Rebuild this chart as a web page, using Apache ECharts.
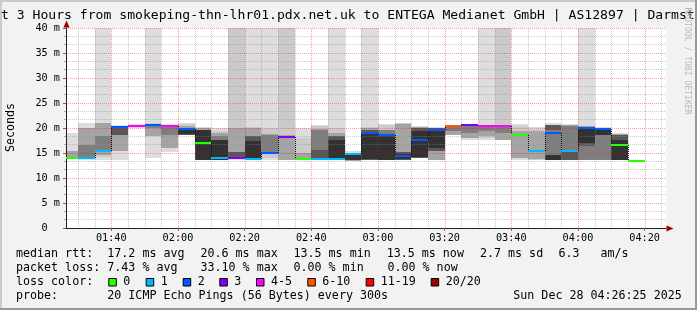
<!DOCTYPE html>
<html><head><meta charset="utf-8">
<script src="https://cdn.jsdelivr.net/npm/echarts@6/dist/echarts.min.js"></script>
<style>html,body{margin:0;padding:0;background:#f2f2f2}#c{width:697px;height:310px}</style>
</head><body><div id="c"></div>
<script>
// ---------------- DATA ----------------
const rangeStart = '01:26:25';
const rangeEnd = '04:26:25';
const STEP = 5; // minutes per RRD step (300 s)
const blockStart = ['01:25','01:30','01:35','01:40','01:45','01:50','01:55','02:00','02:05','02:10','02:15','02:20','02:25','02:30','02:35','02:40','02:45','02:50','02:55','03:00','03:05','03:10','03:15','03:20','03:25','03:30','03:35','03:40','03:45','03:50','03:55','04:00','04:05','04:10','04:15'];
const median = [14.0,14.0,15.4,20.2,20.4,20.6,20.5,19.9,17.1,14.0,14.0,13.8,15.0,18.2,13.8,13.8,13.8,14.8,19.0,18.6,14.4,17.7,19.7,20.4,20.6,20.5,20.4,18.7,15.5,19.0,15.5,20.0,19.8,16.7,13.5];
const lossIdx = [0,1,1,2,4,2,4,2,0,1,3,1,2,3,0,1,1,1,2,2,2,2,2,5,3,4,4,0,1,2,1,2,2,0,0];
const HI = 999; // ping above the graph maximum
// smoke layers, outermost (lightest) to innermost (darkest): [low, high] in ms
const smoke1 = [[14.0,19.0],[13.7,21.0],[13.7,HI],[13.7,20.6],[20.0,20.8],[14.0,HI],[15.2,20.8],[18.7,21.0],[13.7,20.3],[13.7,20.1],[13.7,HI],[13.7,HI],[13.7,HI],[13.7,HI],[13.7,20.0],[13.7,20.7],[13.7,HI],[13.4,15.4],[13.7,HI],[13.7,20.8],[13.7,21.1],[14.0,20.4],[13.7,20.2],[18.7,20.6],[17.7,20.8],[17.7,HI],[17.7,HI],[13.7,20.8],[13.7,20.2],[13.7,21.0],[13.7,20.9],[13.7,HI],[13.7,20.3],[13.7,19.0],null];
const smoke2 = [null,[13.8,20.0],[14.2,21.0],[15.4,20.5],[20.2,20.6],[18.4,21.0],null,[18.7,20.8],null,[13.7,19.5],[13.8,HI],[13.7,20.3],[14.0,20.0],[13.7,HI],[13.7,18.0],[13.7,20.5],[13.7,20.0],null,[13.7,20.2],[13.7,20.6],[13.7,21.0],null,null,null,null,[18.0,20.6],[17.7,HI],[14.0,20.5],[13.7,19.8],null,null,null,null,null,null];
const smoke3 = [[14.0,15.4],[13.9,20.0],[14.7,21.0],[15.4,20.4],null,[18.4,20.9],[16.0,20.5],[18.7,20.4],[13.7,20.0],[13.7,19.0],[13.9,20.0],[13.7,20.0],[14.9,18.9],[13.7,18.7],[13.7,15.0],[13.7,19.9],[13.7,19.0],[13.5,15.0],[13.7,20.0],[13.7,19.7],[13.7,20.8],[14.0,20.2],[13.7,20.1],[18.7,20.4],[18.0,20.6],[18.4,20.4],[17.7,20.4],[14.0,19.4],[13.8,19.4],null,[13.7,20.7],[13.7,20.4],[13.7,20.1],[13.7,18.8],null];
const smoke4 = [null,[14.3,16.7],[15.3,18.4],[18.7,20.3],null,[20.0,20.8],[18.7,20.4],null,null,[13.7,18.4],null,null,[15.0,18.7],null,null,[13.7,19.7],null,null,null,[13.7,19.6],null,null,null,[19.5,20.3],[19.0,20.4],[19.5,20.3],[19.0,20.2],null,null,[13.7,20.7],[13.7,20.5],[13.7,20.2],[13.7,20.0],null,null];
const smoke5 = [null,null,null,[18.7,20.2],null,null,null,[18.7,20.0],null,null,[13.9,15.2],[13.7,18.4],null,null,null,[13.7,15.6],[13.7,18.4],null,[13.7,19.6],null,[13.7,15.2],[14.0,20.0],[15.4,20.0],null,null,null,null,null,null,[19.6,20.7],[13.7,15.4],[16.4,20.1],null,[13.7,18.7],null];
const smoke6 = [null,null,null,null,null,null,null,[18.9,19.8],[13.7,19.7],[13.7,17.6],null,[13.7,17.5],null,null,null,null,[13.7,17.7],[13.6,14.8],[13.8,18.9],[13.7,18.6],[13.8,14.8],[14.2,19.5],[16.0,19.8],null,null,null,null,null,null,[13.7,14.7],null,[17.0,20.0],[18.7,20.0],[13.7,17.7],null];
const lossLabels = ['0','1','2','3','4-5','6-10','11-19','20/20'];
const xLabels = ['01:40','02:00','02:20','02:40','03:00','03:20','03:40','04:00','04:20'];
const yMax = 40;
const titleText = 't 3 Hours from smokeping-thn-lhr01.pdx.net.uk to ENTEGA Medianet GmbH | AS12897 | Darmst';
const rttLabel = 'median rtt:';
const rttStats = ['17.2 ms avg','20.6 ms max','13.5 ms min','13.5 ms now','2.7 ms sd','6.3','am/s'];
const lossLabel = 'packet loss:';
const lossStats = ['7.43 % avg','33.10 % max','0.00 % min','0.00 % now'];
const colorLabel = 'loss color:';
const probeLabel = 'probe:';
const probeText = '20 ICMP Echo Pings (56 Bytes) every 300s';
const dateText = 'Sun Dec 28 04:26:25 2025';
const watermark = 'RRDTOOL / TOBI OETIKER';
const yName = 'Seconds';

// ---------------- STYLE ----------------
const lossColors = ['#26ff00','#00b8ff','#0059ff','#7e00ff','#ff00ff','#ff5500','#ff0000','#a10000'];
const layerColors = ['#dddddd','#cacaca','#a4a4a4','#7e7e7e','#585858','#323232'];
const layers = [smoke1, smoke2, smoke3, smoke4, smoke5, smoke6];
const MONO = '"DejaVu Sans Mono", monospace';

function toMin(s){ const p = s.split(':').map(Number); return p[0]*60 + p[1] + (p[2]||0)/60; }
const xMin = toMin(rangeStart), xMax = toMin(rangeEnd);
const xLabelVals = xLabels.map(toMin);
const gridVals = [];
for (let t = Math.ceil(xMin/STEP)*STEP; t < xMax; t += STEP) gridVals.push(t);
const blocks = blockStart.map((s,i)=>[toMin(s), toMin(s)+STEP, i]);

const chart = echarts.init(document.getElementById('c'), null, {renderer:'canvas'});

const legendEls = [];
function txt(x, y, text, extra){
  legendEls.push(Object.assign({type:'text', x:x, y:y, silent:true,
    style:{text:text, fill:'#000', fontFamily:MONO, fontSize:11.66, align:'left', verticalAlign:'middle'}}, extra||{}));
}
const row = [253.8, 267.8, 281.8, 295.6];
txt(16,row[0],rttLabel);
[107.3,200.5,293.5,386.7,480,558.5,600.5].forEach((x,i)=>txt(x,row[0],rttStats[i]));
txt(16,row[1],lossLabel);
[107.3,200.5,293.5,387.5].forEach((x,i)=>txt(x,row[1],lossStats[i]));
txt(16,row[2],colorLabel);
const boxX = [108.3,145.7,182.7,219.3,256,307.3,365.7,430.7];
lossLabels.forEach((l,i)=>{
  legendEls.push({type:'rect', silent:true, shape:{x:boxX[i]+0.5, y:278.5, width:7.5, height:7.5},
    style:{fill:lossColors[i], stroke:'#000', lineWidth:1}});
  txt(boxX[i]+15, row[2], l);
});
txt(16,row[3],probeLabel);
txt(107.3,row[3],probeText);
txt(513.3,row[3],dateText);

const graphicEls = [
  {type:'rect', silent:true, shape:{x:0,y:0,width:697,height:2}, style:{fill:'#cbcbcb'}},
  {type:'rect', silent:true, shape:{x:0,y:0,width:2,height:310}, style:{fill:'#cbcbcb'}},
  {type:'rect', silent:true, shape:{x:0,y:308,width:697,height:2}, style:{fill:'#999999'}},
  {type:'rect', silent:true, shape:{x:695,y:0,width:2,height:310}, style:{fill:'#999999'}},
  {type:'text', silent:true, x:1, y:15.5, style:{text:titleText, fill:'#000', fontFamily:MONO, fontSize:13.1, align:'left', verticalAlign:'middle'}},
  {type:'text', silent:true, x:11, y:127.5, rotation:Math.PI/2, style:{text:yName, fill:'#000', fontFamily:MONO, fontSize:11.66, align:'center', verticalAlign:'middle'}},
  {type:'text', silent:true, x:687.5, y:61, rotation:-Math.PI/2, style:{text:watermark, fill:'#b8b8b8', fontFamily:MONO, fontSize:8.1, align:'center', verticalAlign:'middle'}},
  {type:'polygon', silent:true, z:10, shape:{points:[[66.5,20.5],[63.5,27.5],[69.5,27.5]]}, style:{fill:'#990000'}},
  {type:'polygon', silent:true, z:10, shape:{points:[[673.5,228.5],[666.5,225.5],[666.5,231.5]]}, style:{fill:'#990000'}}
].concat(legendEls);

chart.setOption({
  animation:false,
  backgroundColor:'#f2f2f2',
  grid:{left:66, top:28, width:600, height:200, show:true, backgroundColor:'#ffffff', borderWidth:0},
  xAxis:{type:'value', min:xMin, max:xMax, z:4,
    axisLine:{show:true, onZero:false, lineStyle:{color:'#222', width:1}},
    axisTick:{show:true, customValues:xLabelVals, length:3, lineStyle:{color:'#cc4444'}},
    axisLabel:{customValues:xLabelVals, margin:5, color:'#000', fontFamily:MONO, fontSize:10.2,
      formatter:v=>{ const i = xLabelVals.findIndex(u=>Math.abs(u-v)<1e-6); return i>=0 ? xLabels[i] : ''; }},
    splitLine:{show:false}},
  yAxis:{type:'value', min:0, max:yMax, interval:5, z:2,
    axisLine:{show:true, lineStyle:{color:'#222', width:1}},
    axisTick:{show:true, length:3, lineStyle:{color:'#cc4444'}},
    minorTick:{show:true, splitNumber:3, length:2, lineStyle:{color:'#aaaaaa'}},
    axisLabel:{margin:6, color:'#000', fontFamily:MONO, fontSize:10.2, formatter:v=> v===0 ? '0  ' : v+' m'},
    splitLine:{show:true, lineStyle:{color:'rgba(255,0,0,0.38)', width:1, type:[1,1]}},
    minorSplitLine:{show:true, lineStyle:{color:'rgba(140,140,140,0.45)', width:1, type:[1,1]}}},
  graphic:{elements:graphicEls},
  series:[
    {type:'custom', name:'smoke', z:1, clip:true, silent:true, data:blocks,
      renderItem:(params, api)=>{
        const i = api.value(2), t0 = api.value(0), t1 = api.value(1);
        const ch = [];
        layers.forEach((L, li)=>{
          const b = L[i]; if (!b) return;
          const pTop = api.coord([t0, Math.min(b[1], yMax)]);
          const pBot = api.coord([t1, b[0]]);
          const x0 = Math.round(pTop[0]), x1 = Math.round(pBot[0]);
          const y0 = Math.round(pTop[1]), y1 = Math.round(pBot[1]);
          ch.push({type:'rect', shape:{x:x0, y:y0, width:x1-x0, height:Math.max(1,y1-y0)}, style:{fill:layerColors[li]}});
        });
        return {type:'group', children:ch};
      }},
    {type:'custom', name:'grid', z:2, clip:true, silent:true, data:gridVals.map(v=>[v]),
      renderItem:(params, api)=>{
        const t = api.value(0);
        const a = api.coord([t, 0]), b = api.coord([t, yMax]);
        const x = Math.round(a[0]) + 0.5;
        const major = Math.abs(t % 20) < 1e-6;
        return {type:'line', shape:{x1:x, y1:a[1], x2:x, y2:b[1]},
          style:{stroke: major ? 'rgba(255,0,0,0.38)' : 'rgba(140,140,140,0.45)', lineWidth:1, lineDash:[1,1]}};
      }},
    {type:'custom', name:'median', z:3, clip:true, silent:true, data:blocks,
      renderItem:(params, api)=>{
        const i = api.value(2), t0 = api.value(0), t1 = api.value(1);
        const a = api.coord([t0, median[i]]), b = api.coord([t1, median[i]]);
        const y = Math.round(a[1]);
        const x0 = Math.round(a[0]), x1 = Math.round(b[0]);
        const ch = [{type:'line', shape:{x1:x0, y1:y, x2:x1, y2:y}, style:{stroke:lossColors[lossIdx[i]], lineWidth:2}}];
        if (i+1 < median.length) {
          const c = api.coord([t1, median[i+1]]);
          ch.push({type:'line', shape:{x1:x1+0.5, y1:y, x2:x1+0.5, y2:Math.round(c[1])}, style:{stroke:'#111', lineWidth:1, lineDash:[1,1]}});
        }
        return {type:'group', children:ch};
      }}
  ]
});
</script></body></html>
